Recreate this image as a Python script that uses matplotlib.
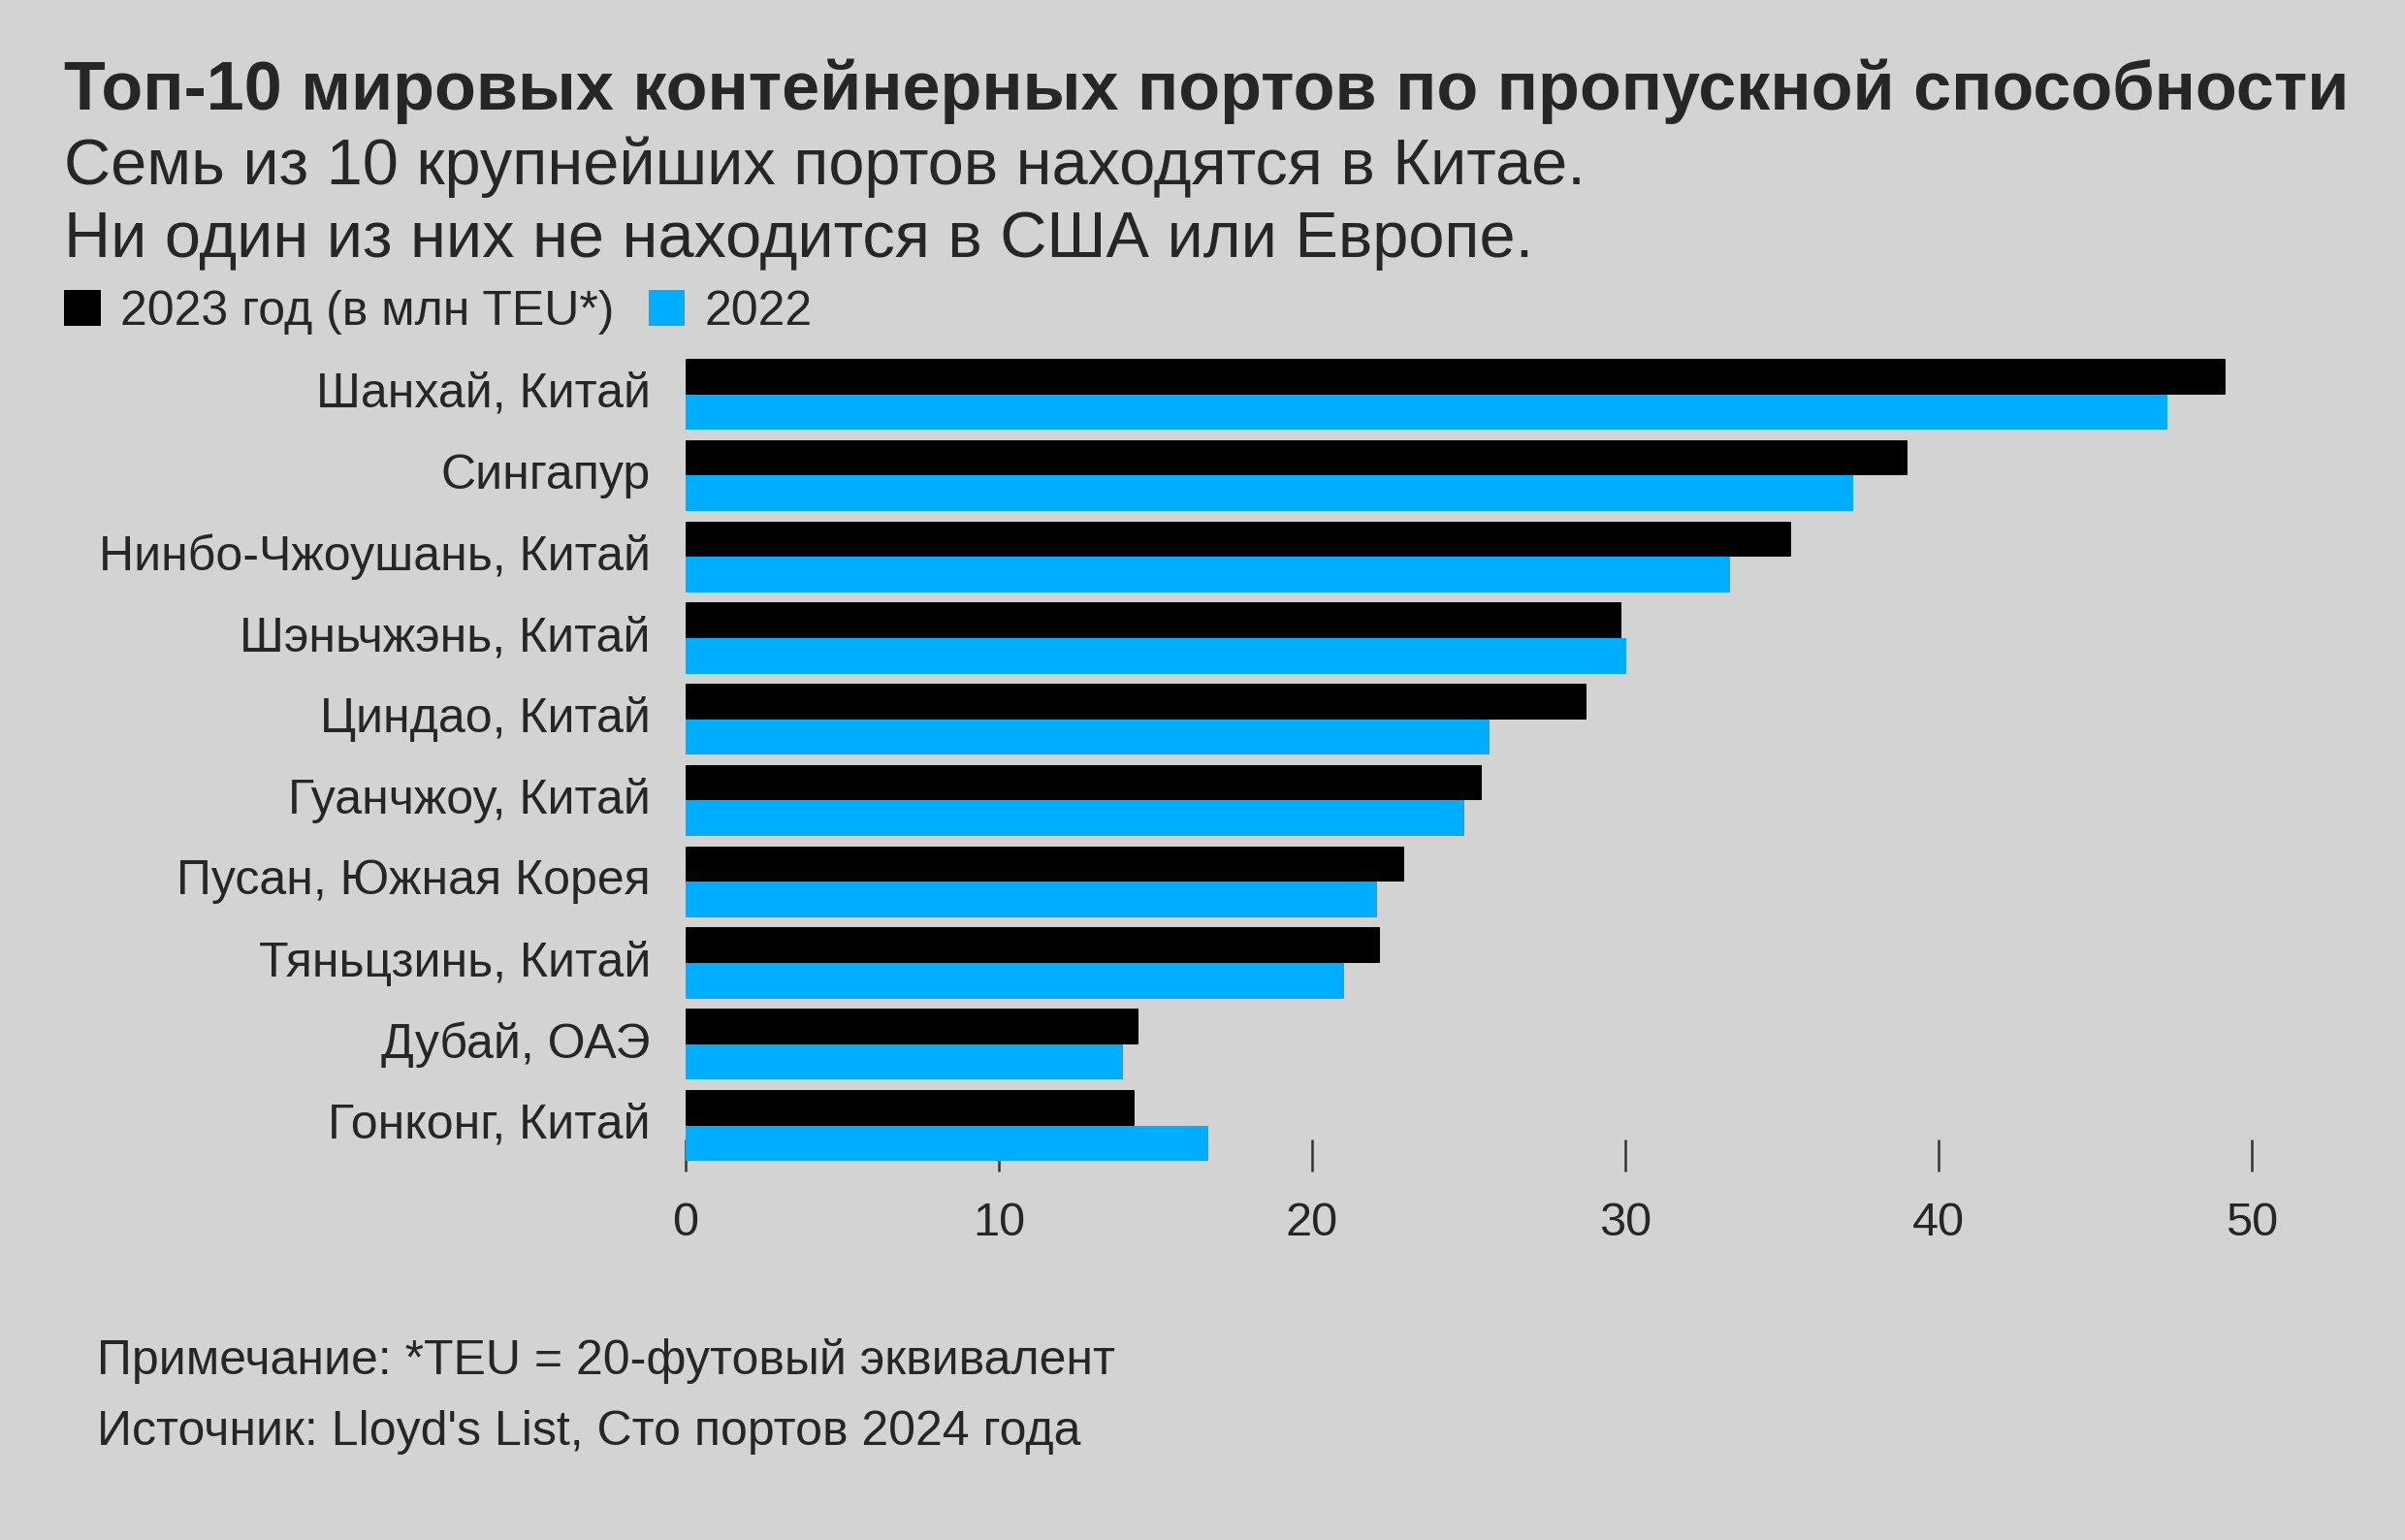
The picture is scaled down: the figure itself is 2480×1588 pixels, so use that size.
import numpy as np
import matplotlib
matplotlib.use("Agg")
import matplotlib.pyplot as plt
import matplotlib.transforms as mtransforms
from matplotlib.patches import Patch

ports = ["Шанхай, Китай", "Сингапур", "Нинбо-Чжоушань, Китай", "Шэньчжэнь, Китай",
         "Циндао, Китай", "Гуанчжоу, Китай", "Пусан, Южная Корея", "Тяньцзинь, Китай",
         "Дубай, ОАЭ", "Гонконг, Китай"]
teu_2023 = [49.16, 39.01, 35.30, 29.88, 28.77, 25.41, 22.95, 22.17, 14.47, 14.34]
teu_2022 = [47.30, 37.29, 33.35, 30.04, 25.67, 24.86, 22.08, 21.02, 13.97, 16.69]
xticks = [0, 10, 20, 30, 40, 50]

BG = "#d3d3d3"
BLUE = "#00aeff"
TXT = "#262626"

plt.rcParams["font.family"] = ["Liberation Sans", "DejaVu Sans"]

W, H = 2480, 1588
fig = plt.figure(figsize=(W / 100, H / 100), dpi=100, facecolor=BG)
ax = fig.add_axes([707 / W, 1 - 1208 / H, (2322 - 707) / W, (1208 - 360.6) / H])
ax.set_facecolor(BG)

y = np.arange(len(ports))
h = 0.438
ax.barh(y - h / 2, teu_2023, height=h, color="black", zorder=2)
ax.barh(y + h / 2, teu_2022, height=h, color=BLUE, zorder=2)

ax.set_xlim(0, 50)
ax.set_ylim(9.567, -0.55)
ax.set_axisbelow(True)
for s in ax.spines.values():
    s.set_visible(False)

ax.set_xticks(xticks)
ax.set_xticklabels([str(t) for t in xticks])
ax.tick_params(axis="x", direction="in", length=24, width=1.8, color="#333333",
               labelsize=35, labelcolor=TXT, pad=22)
ax.set_yticks(y)
ax.set_yticklabels(ports)
ax.tick_params(axis="y", length=0, labelsize=36, labelcolor=TXT, pad=26)
# nudge port names up a little
shift = mtransforms.ScaledTranslation(0, 3.5 / 72, fig.dpi_scale_trans)
for lab in ax.get_yticklabels():
    lab.set_transform(lab.get_transform() + shift)

fig.text(66 / W, 1 - 113 / H, "Топ-10 мировых контейнерных портов по пропускной способности",
         fontsize=50.5, fontweight="bold", color=TXT, ha="left", va="baseline")
fig.text(66 / W, 1 - 190 / H, "Семь из 10 крупнейших портов находятся в Китае.",
         fontsize=48, color=TXT, ha="left", va="baseline")
fig.text(66 / W, 1 - 265 / H, "Ни один из них не находится в США или Европе.",
         fontsize=48, color=TXT, ha="left", va="baseline")

handles = [Patch(facecolor="black"), Patch(facecolor=BLUE)]
fig.legend(handles, ["2023 год (в млн TEU*)", "2022"], loc="center left",
           bbox_to_anchor=(66 / W, 1 - 322 / H), ncol=2, frameon=False,
           fontsize=36, handlelength=0.75, handleheight=0.75, handletextpad=0.4,
           columnspacing=0.72, borderpad=0, borderaxespad=0, labelcolor=TXT)

fig.text(100 / W, 1 - 1417 / H, "Примечание: *TEU = 20-футовый эквивалент",
         fontsize=36, color=TXT, ha="left", va="baseline")
fig.text(100 / W, 1 - 1490 / H, "Источник: Lloyd's List, Сто портов 2024 года",
         fontsize=36, color=TXT, ha="left", va="baseline")

fig.savefig("out.png", dpi=100, facecolor=BG)
